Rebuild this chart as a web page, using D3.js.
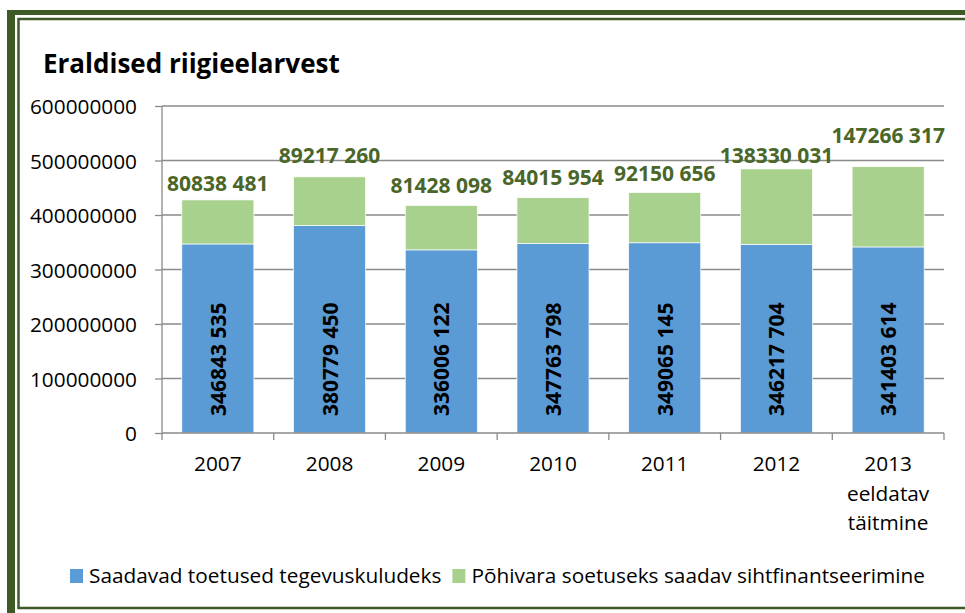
<!DOCTYPE html>
<html>
<head>
<meta charset="utf-8">
<script src="https://cdn.jsdelivr.net/npm/d3@7"></script>
<style>
  body { margin: 0; background: #fff; }
  svg { display: block; font-family: "Open Sans", "Noto Sans", sans-serif; }
</style>
</head>
<body>
<svg id="chart" width="965" height="613"></svg>
<script>
// data
var years = ["2007", "2008", "2009", "2010", "2011", "2012", "2013"];
var yearNotes = ["", "", "", "", "", "", "eeldatav|täitmine"];
var operating = [346843535, 380779450, 336006122, 347763798, 349065145, 346217704, 341403614];
var capital = [80838481, 89217260, 81428098, 84015954, 92150656, 138330031, 147266317];
var yTicks = [0, 100000000, 200000000, 300000000, 400000000, 500000000, 600000000];
var seriesNames = ["Saadavad toetused tegevuskuludeks", "Põhivara soetuseks saadav sihtfinantseerimine"];

// how far each green label sits above its bar (manually placed in the original)
var labelLift = [9, 14, 12, 13, 12, 6, 24];

var blue = "#5b9bd5";
var green = "#a9d18e";
var darkGreen = "#4a6629";
var frame = "#3d5a27";
var gridColor = "#8a8a8a";
var textSize = 20.8;

function drawChart() {
  var svg = d3.select("#chart");

  /*
  Frame around the chart
  */
  svg.append("rect").attr("x", 7).attr("y", 10).attr("width", 8).attr("height", 613).attr("fill", frame);
  svg.append("rect").attr("x", 7).attr("y", 10).attr("width", 970).attr("height", 5).attr("fill", frame);
  svg.append("path")
    .attr("d", "M975,19 H18.5 V608 H975")
    .attr("fill", "none")
    .attr("stroke", frame)
    .attr("stroke-width", 2.5);

  // title
  svg.append("text")
    .attr("x", 43)
    .attr("y", 73)
    .attr("font-size", 26)
    .attr("font-weight", 700)
    .attr("fill", "#000")
    .text("Eraldised riigieelarvest");

  /*
  Scales
  */
  var plotLeft = 162, plotRight = 944, plotTop = 106, plotBottom = 433;

  var x = d3.scaleBand()
    .domain(years)
    .range([plotLeft, plotRight])
    .paddingInner(0.355)
    .paddingOuter(0.1775);

  var y = d3.scaleLinear()
    .domain([0, 600000000])
    .range([plotBottom, plotTop]);

  var gap = (x.step() - x.bandwidth()) / 2;

  // gridlines
  svg.append("g")
    .selectAll("line")
    .data(yTicks.filter((d) => d > 0))
    .enter()
    .append("line")
    .attr("x1", plotLeft)
    .attr("x2", plotRight)
    .attr("y1", (d) => y(d))
    .attr("y2", (d) => y(d))
    .attr("stroke", gridColor)
    .attr("stroke-width", 1.3);

  // y axis
  var yAxis = d3.axisLeft(y).tickValues(yTicks).tickSize(7).tickPadding(18).tickFormat(d3.format("d"));
  var gY = svg.append("g").attr("transform", "translate(" + plotLeft + ",0)").call(yAxis);
  gY.select(".domain")
    .attr("stroke", gridColor)
    .attr("stroke-width", 1.3)
    .attr("d", "M0," + plotTop + "V" + plotBottom);
  gY.selectAll(".tick line").attr("stroke", gridColor).attr("stroke-width", 1.3);
  gY.selectAll(".tick text")
    .attr("font-size", textSize)
    .attr("font-family", "'Open Sans', sans-serif")
    .attr("fill", "#000")
    .attr("dy", "0.36em");

  /*
  Bars
  */
  var bars = svg.append("g");
  bars.selectAll("rect.op")
    .data(years)
    .enter()
    .append("rect")
    .attr("class", "op")
    .attr("x", (d) => x(d))
    .attr("width", x.bandwidth())
    .attr("y", (d, i) => y(operating[i]))
    .attr("height", (d, i) => y(0) - y(operating[i]))
    .attr("fill", blue)
    .attr("stroke", "#fff")
    .attr("stroke-width", 0.7);

  bars.selectAll("rect.cap")
    .data(years)
    .enter()
    .append("rect")
    .attr("class", "cap")
    .attr("x", (d) => x(d))
    .attr("width", x.bandwidth())
    .attr("y", (d, i) => y(operating[i] + capital[i]))
    .attr("height", (d, i) => y(operating[i]) - y(operating[i] + capital[i]))
    .attr("fill", green)
    .attr("stroke", "#fff")
    .attr("stroke-width", 0.7);

  // x axis line with ticks at the category boundaries
  svg.append("line")
    .attr("x1", plotLeft).attr("x2", plotRight)
    .attr("y1", plotBottom).attr("y2", plotBottom)
    .attr("stroke", gridColor)
    .attr("stroke-width", 1.3);

  var bounds = years.map((d) => x(d) - gap).concat([plotRight]);
  svg.append("g")
    .selectAll("line")
    .data(bounds)
    .enter()
    .append("line")
    .attr("x1", (d) => d).attr("x2", (d) => d)
    .attr("y1", plotBottom).attr("y2", plotBottom + 7)
    .attr("stroke", gridColor)
    .attr("stroke-width", 1.3);

  // category labels
  var fmtSpace = (v) => {
    var s = String(v);
    return s.slice(0, s.length - 3) + " " + s.slice(s.length - 3);
  };

  var xLabels = svg.append("g")
    .selectAll("text")
    .data(years)
    .enter()
    .append("text")
    .attr("x", (d) => x(d) + x.bandwidth() / 2)
    .attr("y", 471)
    .attr("text-anchor", "middle")
    .attr("font-size", textSize)
    .attr("fill", "#000");

  xLabels.each(function (d, i) {
    var t = d3.select(this);
    t.append("tspan").text(d);
    if (yearNotes[i]) {
      yearNotes[i].split("|").forEach((line) => {
        t.append("tspan")
          .attr("x", x(d) + x.bandwidth() / 2)
          .attr("dy", 29.5)
          .text(line);
      });
    }
  });

  // green value labels above the bars
  svg.append("g")
    .selectAll("text")
    .data(years)
    .enter()
    .append("text")
    .attr("x", (d) => x(d) + x.bandwidth() / 2)
    .attr("y", (d, i) => y(operating[i] + capital[i]) - labelLift[i])
    .attr("text-anchor", "middle")
    .attr("font-size", 21)
    .attr("font-weight", 700)
    .attr("fill", darkGreen)
    .text((d, i) => fmtSpace(capital[i]));

  // rotated labels inside the blue bars
  svg.append("g")
    .selectAll("text")
    .data(years)
    .enter()
    .append("text")
    .attr("transform", (d) => "translate(" + (x(d) + x.bandwidth() / 2 + 8) + "," + (y(0) - 17) + ") rotate(-90)")
    .attr("text-anchor", "start")
    .attr("font-size", 21)
    .attr("font-weight", 700)
    .attr("fill", "#000")
    .text((d, i) => fmtSpace(operating[i]));

  /*
  Legend
  */
  var legend = svg.append("g");
  var lx = 70;
  seriesNames.forEach((name, i) => {
    legend.append("rect")
      .attr("x", lx)
      .attr("y", 569)
      .attr("width", 13)
      .attr("height", 14)
      .attr("fill", i === 0 ? blue : green);
    var t = legend.append("text")
      .attr("x", lx + 19)
      .attr("y", 583)
      .attr("font-size", textSize)
      .attr("fill", "#000")
      .text(name);
    lx = lx + 19 + t.node().getComputedTextLength() + 11;
  });
}

drawChart();
</script>
</body>
</html>
